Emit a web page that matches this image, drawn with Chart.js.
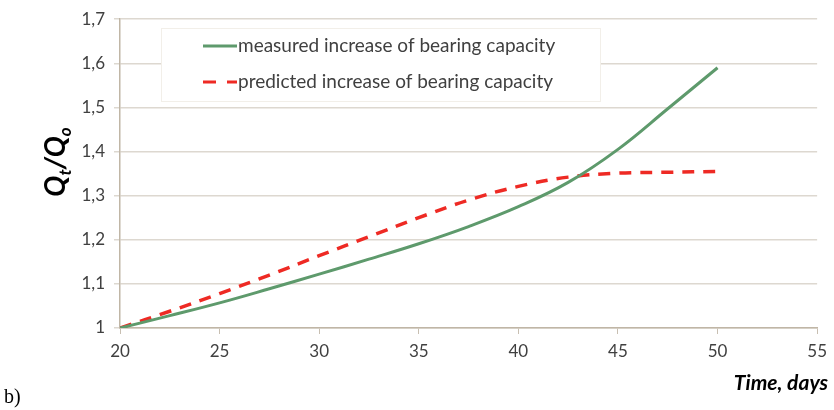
<!DOCTYPE html>
<html>
<head>
<meta charset="utf-8">
<script src="https://cdn.jsdelivr.net/npm/chart.js@4"></script>
<style>
  html, body { margin: 0; padding: 0; background: #fff; }
  #wrap { width: 834px; height: 410px; position: relative; }
</style>
</head>
<body>
<div id="wrap"><canvas id="grafica" width="834" height="410"></canvas></div>
<script>
// days
const days = [20, 22.5, 25, 27.5, 30, 32.5, 35, 37.5, 40, 42.5, 45, 47.5, 50];
// Qt/Qo measured
const measured = [1.0, 1.028, 1.057, 1.089, 1.122, 1.156, 1.191, 1.23, 1.275, 1.33, 1.405, 1.497, 1.59];
// Qt/Qo predicted
const predicted = [1.0, 1.038, 1.078, 1.12, 1.164, 1.207, 1.25, 1.29, 1.321, 1.342, 1.351, 1.353, 1.355];

const xTicks = [20, 25, 30, 35, 40, 45, 50, 55];
const yTicks = [1, 1.1, 1.2, 1.3, 1.4, 1.5, 1.6, 1.7];

const labelFont = "Lato, 'Open Sans', sans-serif";

// titles, legend box and the "b)" mark
const extras = {
    id: 'extras',
    afterDraw(chart) {
        const c = chart.ctx;
        c.save();

        // legend box
        const bx = 161, by = 28, bw = 439, bh = 73;
        c.fillStyle = '#ffffff';
        c.fillRect(bx, by, bw, bh);
        c.strokeStyle = '#f2efe9';
        c.lineWidth = 1;
        c.strokeRect(bx + 0.5, by + 0.5, bw, bh);
        const rows = [46, 82];
        chart.data.datasets.forEach(function (ds, i) {
            const y = rows[i];
            c.strokeStyle = ds.borderColor;
            c.lineWidth = 3;
            c.beginPath();
            if (ds.borderDash) {
                c.moveTo(203, y); c.lineTo(216, y);
                c.moveTo(227, y); c.lineTo(237, y);
            } else {
                c.moveTo(203, y); c.lineTo(237, y);
            }
            c.stroke();
            c.fillStyle = '#404040';
            c.font = "19px " + labelFont;
            c.textAlign = 'left';
            c.textBaseline = 'middle';
            c.fillText(ds.label, 238, y);
        });

        // y title Qt/Qo
        c.translate(56, 162);
        c.rotate(-Math.PI / 2);
        c.fillStyle = '#000';
        c.textBaseline = 'alphabetic';
        c.textAlign = 'left';
        const big = "italic bold 28px " + labelFont;
        const small = "italic bold 17px " + labelFont;
        const parts = [["Q", big, 0], ["t", small, 6], ["/Q", big, 0], ["o", small, 6]];
        let w = 0;
        parts.forEach(function (p) { c.font = p[1]; w += c.measureText(p[0]).width; });
        let x = -w / 2;
        parts.forEach(function (p) {
            c.font = p[1];
            c.fillText(p[0], x, 9 + p[2]);
            x += c.measureText(p[0]).width;
        });
        c.setTransform(1, 0, 0, 1, 0, 0);

        // x title
        c.font = "italic bold 21px " + labelFont;
        c.fillStyle = '#000';
        c.textAlign = 'right';
        c.textBaseline = 'middle';
        c.fillText("Time, days", 828, 383);

        // panel mark
        c.font = "20px 'Liberation Serif', serif";
        c.textAlign = 'left';
        c.fillText("b)", 4, 398);
        c.restore();
    }
};

const ctx = document.getElementById('grafica').getContext('2d');
const chart = new Chart(ctx, {
    type: 'line',
    data: {
        datasets: [{
            label: 'measured increase of bearing capacity',
            data: days.map((d, i) => ({ x: d, y: measured[i] })),
            borderColor: '#5e9a6c',
            borderWidth: 3,
            pointRadius: 0,
            tension: 0.4,
            fill: false
        },
        {
            label: 'predicted increase of bearing capacity',
            data: days.map((d, i) => ({ x: d, y: predicted[i] })),
            borderColor: '#ee2a24',
            borderWidth: 3.5,
            borderDash: [12, 9],
            pointRadius: 0,
            tension: 0.4,
            fill: false
        }]
    },
    options: {
        responsive: false,
        animation: false,
        layout: { padding: { top: 17, right: 14, left: 0, bottom: 0 } },
        plugins: { legend: { display: false }, tooltip: { enabled: false } },
        scales: {
            x: {
                type: 'linear',
                min: 20, max: 55,
                afterBuildTicks: function (axis) { axis.ticks = xTicks.map(v => ({ value: v })); },
                afterFit: function (axis) { axis.height = 82; },
                grid: { display: true, drawOnChartArea: false, drawTicks: true, tickLength: 6, color: '#c8bfb2' },
                border: { color: '#c0b6a6', width: 1.5 },
                ticks: { color: '#404040', font: { family: labelFont, size: 17 }, padding: 7, maxRotation: 0 }
            },
            y: {
                min: 1, max: 1.7,
                afterBuildTicks: function (axis) { axis.ticks = yTicks.map(v => ({ value: v })); },
                afterFit: function (axis) { axis.width = 120; },
                grid: { color: '#ddd8d0', lineWidth: 1.5, tickLength: 6 },
                border: { color: '#c0b6a6', width: 1.5 },
                ticks: {
                    color: '#404040',
                    font: { family: labelFont, size: 17 },
                    padding: 9,
                    callback: function (v) { return v === 1 ? '1' : v.toFixed(1).replace('.', ','); }
                }
            }
        }
    },
    plugins: [extras]
});
</script>
</body>
</html>
